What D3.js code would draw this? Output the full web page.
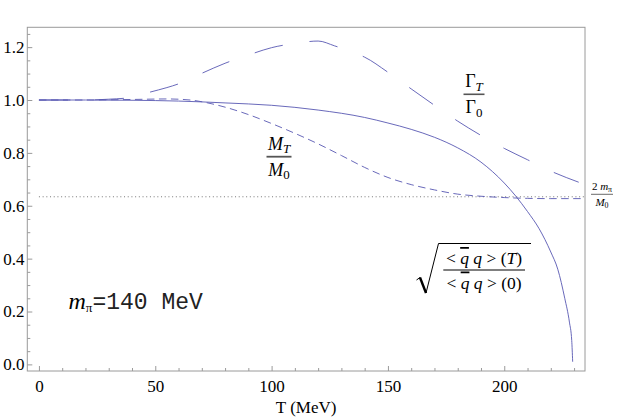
<!DOCTYPE html>
<html>
<head>
<meta charset="utf-8">
<script src="https://cdn.jsdelivr.net/npm/d3@7"></script>
<style>
  body { margin: 0; background: #fff; }
  .tick-label { font-family: "Liberation Serif", "Times New Roman", serif; font-size: 17px; fill: #000; }
  .math { font-family: "Liberation Serif", "Times New Roman", serif; fill: #000; }
</style>
</head>
<body>
<svg id="svg1" width="618" height="418"></svg>
<script>
// values
var tempCondensate = [0, 20, 40, 60, 80, 100, 120, 140, 150, 160, 170, 180, 190, 200, 205, 210, 215, 220, 223, 226, 228, 229, 229.4];
var condensateRatio = [1, 1, 0.999, 0.996, 0.989, 0.98, 0.962, 0.934, 0.913, 0.889, 0.859, 0.819, 0.765, 0.686, 0.636, 0.578, 0.513, 0.425, 0.36, 0.25, 0.16, 0.09, 0.01];

var tempMass = [0, 20, 40, 55, 65, 72, 80, 90, 100, 110, 120, 130, 140, 150, 160, 170, 180, 190, 200, 210, 220, 235];
var massRatio = [1, 1, 1.002, 1.004, 1.0, 0.99, 0.973, 0.945, 0.911, 0.874, 0.834, 0.79, 0.745, 0.707, 0.68, 0.66, 0.644, 0.636, 0.631, 0.628, 0.627, 0.627];

var tempWidth = [0, 20, 30, 40, 47, 55, 60, 70, 80, 90, 100, 110, 120, 127, 135, 140, 150, 160, 170, 180, 190, 200, 210, 220, 232];
var widthRatio = [1, 1, 1.003, 1.01, 1.028, 1.047, 1.061, 1.101, 1.139, 1.17, 1.198, 1.214, 1.223, 1.205, 1.18, 1.162, 1.105, 1.042, 0.98, 0.92, 0.866, 0.817, 0.774, 0.731, 0.689];

var threshold = 0.634; // 2 m_pi / M0

var xTicks = [0, 50, 100, 150, 200];
var yTicks = [0, 0.2, 0.4, 0.6, 0.8, 1.0, 1.2];

function drawChart() {
  var svg = d3.select("#svg1");
  var left = 27.3, right = 585, plotTop = 27.3, bottom = 371;

  var x = d3.scaleLinear().domain([-5, 234.7]).range([left, right]);
  var y = d3.scaleLinear().domain([-0.025, 1.275]).range([bottom, plotTop]);

  var lineColor = "#5858b2";
  var frameColor = "#9a9a9a";

  svg.append("clipPath").attr("id", "plotclip")
    .append("rect")
    .attr("x", left).attr("y", plotTop)
    .attr("width", right - left).attr("height", bottom - plotTop);

  // axes: ticks only on the left and bottom edges
  var xMinor = d3.range(0, 231, 10).filter(function(d) { return d % 50 !== 0; });
  var yMinor = d3.range(0, 26).map(function(d) { return d * 0.05; })
    .filter(function(d) { return Math.abs(d * 5 - Math.round(d * 5)) > 1e-6; });

  var gx = svg.append("g").attr("transform", "translate(0," + bottom + ")");
  gx.append("g").call(d3.axisBottom(x).tickValues(xMinor).tickSize(-3).tickFormat(""));
  gx.append("g").call(d3.axisBottom(x).tickValues(xTicks).tickSize(-5));
  gx.selectAll(".domain").remove();
  gx.selectAll("line").attr("stroke", frameColor);
  gx.selectAll("text").attr("class", "tick-label").attr("dy", null).attr("y", 20.7);

  var gy = svg.append("g").attr("transform", "translate(" + left + ",0)");
  gy.append("g").call(d3.axisLeft(y).tickValues(yMinor).tickSize(-3).tickFormat(""));
  gy.append("g").call(d3.axisLeft(y).tickValues(yTicks).tickSize(-5).tickFormat(d3.format(".1f")));
  gy.selectAll(".domain").remove();
  gy.selectAll("line").attr("stroke", frameColor);
  gy.selectAll("text").attr("class", "tick-label").attr("x", -2.8).attr("dy", "5.4");

  svg.selectAll("g").attr("font-size", null).attr("font-family", null);

  svg.append("rect")
    .attr("x", left).attr("y", plotTop)
    .attr("width", right - left).attr("height", bottom - plotTop)
    .attr("fill", "none").attr("stroke", frameColor).attr("stroke-width", 1);

  var line = d3.line()
    .x(function(d) { return x(d[0]); })
    .y(function(d) { return y(d[1]); })
    .curve(d3.curveMonotoneX);

  var plot = svg.append("g").attr("clip-path", "url(#plotclip)");

  plot.append("path")
    .datum([[0, threshold], [234.7, threshold]])
    .attr("d", line)
    .attr("fill", "none").attr("stroke", "#777")
    .attr("stroke-width", 1).attr("stroke-dasharray", "1,2.7");

  plot.append("path")
    .datum(d3.zip(tempWidth, widthRatio))
    .attr("d", line)
    .attr("fill", "none").attr("stroke", lineColor)
    .attr("stroke-width", 0.9).attr("stroke-dasharray", "29,27");

  plot.append("path")
    .datum(d3.zip(tempMass, massRatio))
    .attr("d", line)
    .attr("fill", "none").attr("stroke", lineColor)
    .attr("stroke-width", 0.9).attr("stroke-dasharray", "7.5,4.5");

  plot.append("path")
    .datum(d3.zip(tempCondensate, condensateRatio))
    .attr("d", line)
    .attr("fill", "none").attr("stroke", lineColor)
    .attr("stroke-width", 0.9);

  // x axis title
  svg.append("text").attr("class", "math")
    .attr("x", (left + right) / 2).attr("y", 413)
    .attr("text-anchor", "middle").attr("font-size", 17)
    .text("T (MeV)");

  // fraction labels
  function fraction(cx, barY, size, num, den, barColor, barWidth, barThick) {
    var g = svg.append("g");
    var n = g.append("text").attr("class", "math").attr("font-size", size)
      .attr("x", cx).attr("y", barY - size * 0.4).attr("text-anchor", "middle");
    num(n);
    var d = g.append("text").attr("class", "math").attr("font-size", size)
      .attr("x", cx).attr("y", barY + size * 1.05).attr("text-anchor", "middle");
    den(d);
    g.append("line")
      .attr("x1", cx - barWidth / 2).attr("x2", cx + barWidth / 2)
      .attr("y1", barY).attr("y2", barY)
      .attr("stroke", barColor).attr("stroke-width", barThick);
    return g;
  }

  function sym(t, main, sub, italicMain, italicSub) {
    t.append("tspan").attr("font-style", italicMain ? "italic" : null).text(main);
    t.append("tspan").attr("font-size", "0.72em").attr("dy", "0.3em")
      .attr("font-style", italicSub ? "italic" : null).text(sub);
  }

  fraction(474, 94.3, 18,
    function(t) { sym(t, "\u0393", "T", false, true); },
    function(t) { sym(t, "\u0393", "0", false, false); },
    "#555", 21, 1.6);

  fraction(279, 156.7, 18,
    function(t) { sym(t, "M", "T", true, true); },
    function(t) { sym(t, "M", "0", true, false); },
    "#555", 25, 1.8);

  fraction(602, 194.3, 11,
    function(t) {
      t.append("tspan").text("2 ");
      sym(t, "m", "\u03c0", true, false);
    },
    function(t) { sym(t, "M", "0", true, false); },
    "#444", 22, 0.8);

  // square root of condensate ratio
  var sq = svg.append("g");
  function qqbar(t, tail) {
    t.append("tspan").text("< ");
    t.append("tspan").attr("font-style", "italic").style("text-decoration", "overline").text("q");
    t.append("tspan").attr("font-style", "italic").text(" q");
    t.append("tspan").text(" > (");
    tail(t);
    t.append("tspan").text(")");
  }
  var sqNum = sq.append("text").attr("class", "math").attr("font-size", 17.5)
    .attr("x", 484).attr("y", 264).attr("text-anchor", "middle");
  qqbar(sqNum, function(t) { t.append("tspan").attr("font-style", "italic").text("T"); });
  var sqDen = sq.append("text").attr("class", "math").attr("font-size", 17.5)
    .attr("x", 484).attr("y", 288.5).attr("text-anchor", "middle");
  qqbar(sqDen, function(t) { t.append("tspan").text("0"); });
  sq.append("line").attr("x1", 443.3).attr("x2", 525).attr("y1", 270).attr("y2", 270)
    .attr("stroke", "#000").attr("stroke-width", 1);
  sq.append("path")
    .attr("d", "M416.5,280 L420,277.5 L426,293 L438.5,243.5 L531,243.5")
    .attr("fill", "none").attr("stroke", "#000").attr("stroke-width", 1);
  sq.append("path")
    .attr("d", "M420,277.5 L426,293")
    .attr("fill", "none").attr("stroke", "#000").attr("stroke-width", 2.4);

  // pion mass note
  var note = svg.append("text").attr("x", 68.5).attr("y", 308.5);
  note.append("tspan").attr("class", "math").attr("font-style", "italic").attr("font-size", 24).text("m");
  note.append("tspan").attr("class", "math").attr("font-size", 13).attr("dy", 3).text("\u03c0");
  note.append("tspan").attr("dy", -3)
    .attr("font-family", "'Liberation Mono', 'Courier New', monospace").attr("font-size", 23)
    .attr("fill", "#222").text("=140 MeV");
}

drawChart();
</script>
</body>
</html>
